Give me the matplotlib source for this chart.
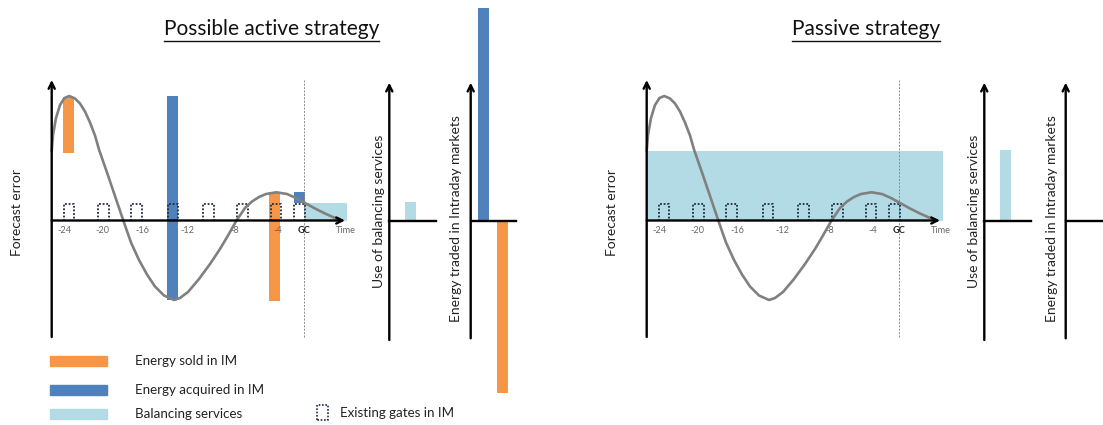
import matplotlib
matplotlib.use('Agg')
import matplotlib.pyplot as plt
from matplotlib.lines import Line2D
from matplotlib.patches import Rectangle

plt.rcParams['font.family'] = ['Lato', 'DejaVu Sans']

W, H = 1103, 425

# ---------------- data ----------------
# forecast-error curve: time (h, GC = 0) and error (arbitrary units)
curve_t = [-25.23, -25.1, -24.8, -24.4, -23.95, -23.47, -22.9, -22.4, -21.9, -21.4,
           -20.9, -20.5, -19.7, -18.9, -18.07, -17.3, -16.5, -15.7, -14.9, -14.0,
           -13.0, -12.4, -11.6, -10.5, -9.4, -8.4, -7.6, -6.75, -5.9, -5.2,
           -4.5, -3.8, -2.75, -1.7, -0.8, 0.1, 1.1, 2.1, 3.1, 3.77]
curve_err = [6.95, 8.55, 10.25, 11.55, 12.25, 12.45, 12.2, 11.7, 10.9, 9.8,
             8.5, 7.1, 4.8, 2.45, 0.0, -2.2, -3.95, -5.4, -6.6, -7.5,
             -7.95, -7.75, -7.15, -5.85, -4.35, -2.85, -1.5, 0.0, 1.25, 1.9,
             2.35, 2.65, 2.82, 2.65, 2.25, 1.75, 1.2, 0.7, 0.25, 0.0]

tick_pos = [-24.0, -20.15, -16.2, -11.65, -6.9, -2.6, 0.0, 4.2]
tick_labels = ['-24', '-20', '-16', '-12', '-8', '-4', 'GC', 'Time']

gate_t = [-23.5, -20.05, -16.75, -13.1, -9.55, -6.15, -2.8, -0.45]

# active strategy trades in IM
sold_t = [-23.5, -2.9]
sold_low = [6.72, -8.02]
sold_high = [12.38, 2.85]
acq_t = [-13.1, -0.45]
acq_low = [-7.95, 1.8]
acq_high = [12.48, 2.88]

# balancing services in the timeline
bal_active_span = [0.1, 4.27]
bal_active_level = 1.78
bal_passive_span = [-25.23, 4.43]
bal_passive_level = 6.95

# side panels: [active, passive]
bal_use = [1.9, 7.1]
im_acquired = [21.3, 0.0]
im_sold = [17.2, 0.0]

titles = ['Possible active strategy', 'Passive strategy']

# ---------------- style ----------------
ORANGE = '#F79646'
BLUE = '#4F81BD'
LBLUE = '#B3DBE6'
CURVE = '#808080'
GATE = '#1c2b44'

fig = plt.figure(figsize=(W / 100, H / 100), dpi=100)
fig.patch.set_facecolor('white')


def px_axes(x0, y0, x1, y1):
    ax = fig.add_axes([x0 / W, 1 - y1 / H, (x1 - x0) / W, (y1 - y0) / H])
    ax.axis('off')
    return ax


def arrow(ax, x0, y0, x1, y1, lw=1.7):
    ax.annotate('', xy=(x1, y1), xytext=(x0, y0),
                arrowprops=dict(arrowstyle='->', lw=lw, color='black',
                                shrinkA=0, shrinkB=0, mutation_scale=11),
                zorder=5)


def main_panel(x_off, active):
    ax = px_axes(40 + x_off, 75, 360 + x_off, 345)
    ax.set_xlim(-26.4, 5.6)
    ax.set_ylim(-12.45, 14.55)
    x_axis = curve_t[0]
    if active:
        ax.bar([(bal_active_span[0] + bal_active_span[1]) / 2],
               [bal_active_level], width=bal_active_span[1] - bal_active_span[0],
               bottom=0, color=LBLUE, zorder=1)
        ax.bar(sold_t, [h - l for h, l in zip(sold_high, sold_low)], width=1.1,
               bottom=sold_low, color=ORANGE, zorder=2)
        ax.bar(acq_t, [h - l for h, l in zip(acq_high, acq_low)], width=1.1,
               bottom=acq_low, color=BLUE, zorder=2)
    else:
        ax.bar([(bal_passive_span[0] + bal_passive_span[1]) / 2],
               [bal_passive_level], width=bal_passive_span[1] - bal_passive_span[0],
               bottom=0, color=LBLUE, zorder=1)
    # GC line
    ax.plot([0.03, 0.03], [-11.65, 14.05], color='#8a8a8a', lw=0.7,
            ls=(0, (2, 1.5)), zorder=2.5)
    # gates
    for g in gate_t:
        ax.plot([g - 0.52, g - 0.52, g + 0.52, g + 0.52], [0, 1.7, 1.7, 0],
                color=GATE, lw=1.3, ls=(0, (1, 1)), zorder=3)
    # curve
    ax.plot(curve_t, curve_err, color=CURVE, lw=1.9, solid_joinstyle='round',
            solid_capstyle='round', zorder=4)
    # axes
    arrow(ax, x_axis, -11.65, x_axis, 14.05)
    arrow(ax, x_axis, 0, 4.1, 0)
    for p, lab in zip(tick_pos, tick_labels):
        bold = lab == 'GC'
        ax.text(p, -1.02, lab, ha='center', va='center', fontsize=6.6,
                color='#222222' if bold else '#666666',
                fontweight='bold' if bold else 'normal', zorder=6)
    return ax


def side_panel(x_off, idx):
    ax = px_axes(360 + x_off, 0, 540 + x_off, 425)
    ax.set_xlim(0, 18)
    ax.set_ylim(-20.37, 22.13)
    # use of balancing services
    ax.bar([5.05], [bal_use[idx]], width=1.1, color=LBLUE, zorder=1)
    arrow(ax, 2.93, -11.87, 2.93, 13.86)
    ax.plot([2.93, 7.6], [0, 0], color='black', lw=1.7, zorder=4)
    # energy traded in intraday markets
    if im_acquired[idx] > 0:
        ax.bar([12.38], [im_acquired[idx]], width=1.1, color=BLUE, zorder=1)
    if im_sold[idx] > 0:
        ax.bar([14.22], [-im_sold[idx]], width=1.1, color=ORANGE, zorder=1)
    arrow(ax, 11.07, -11.7, 11.07, 13.86)
    ax.plot([11.07, 15.6], [0, 0], color='black', lw=1.7, zorder=4)
    return ax


def ftext(x, y, s, **kw):
    return fig.text(x / W, 1 - y / H, s, **kw)


for i, off in enumerate([0, 595]):
    main_panel(off, i == 0)
    side_panel(off, i)
    ftext(17 + off, 213, 'Forecast error', rotation=90, ha='center', va='center',
          fontsize=10, color='#222222')
    ftext(379 + off, 211, 'Use of balancing services', rotation=90, ha='center',
          va='center', fontsize=10, color='#222222')
    ftext(456.5 + off, 219, 'Energy traded in Intraday markets', rotation=90,
          ha='center', va='center', fontsize=10, color='#222222')

title_x = [271.5, 866]
title_objs = []
for tx, tt in zip(title_x, titles):
    title_objs.append(ftext(tx, 29, tt, ha='center', va='center', fontsize=15,
                            color='#111111'))

# legend
leg_items = [(ORANGE, 'Energy sold in IM', 361), (BLUE, 'Energy acquired in IM', 389.5),
             (LBLUE, 'Balancing services', 414)]
for col, lab, yc in leg_items:
    fig.patches.append(Rectangle((50 / W, 1 - (yc + 5) / H), 57 / W, 10 / H,
                                 transform=fig.transFigure, color=col))
    ftext(135, yc, lab, ha='left', va='center', fontsize=9.6, color='#222222')
gx0, gx1, gy0, gy1 = 317, 328, 405, 420
fig.lines.append(Line2D([gx0 / W, gx0 / W, gx1 / W, gx1 / W, gx0 / W],
                        [1 - gy1 / H, 1 - gy0 / H, 1 - gy0 / H, 1 - gy1 / H, 1 - gy1 / H],
                        transform=fig.transFigure, color=GATE, lw=1.2,
                        ls=(0, (1, 1))))
ftext(340, 413, 'Existing gates in IM', ha='left', va='center', fontsize=9.6,
      color='#222222')

# underline titles
fig.canvas.draw()
r = fig.canvas.get_renderer()
for t in title_objs:
    bb = t.get_window_extent(renderer=r)
    fig.lines.append(Line2D([bb.x0 / W, bb.x1 / W], [1 - 40.5 / H, 1 - 40.5 / H],
                            transform=fig.transFigure, color='#111111', lw=1.0))

fig.savefig('out.png', dpi=100, facecolor='white')
